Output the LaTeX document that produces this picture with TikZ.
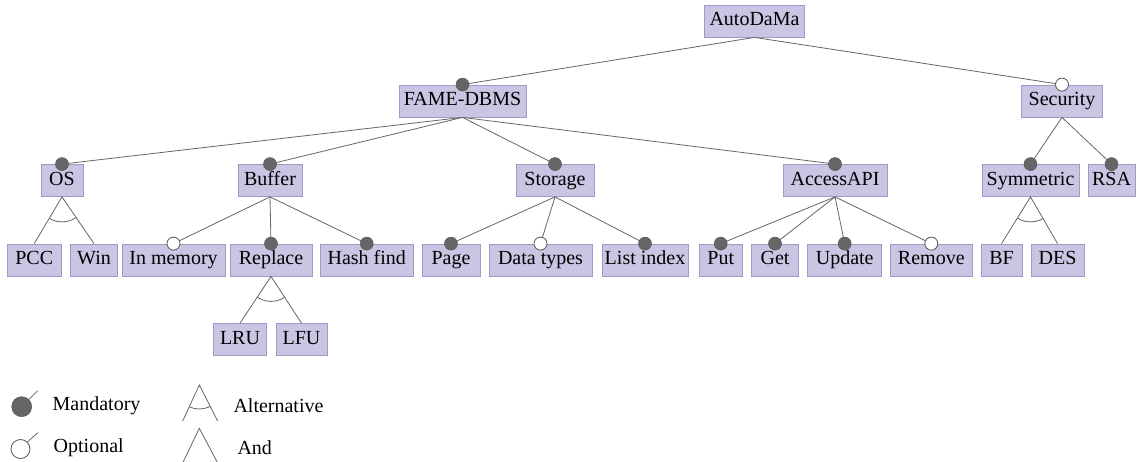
\documentclass[tikz,border=0pt]{standalone}
\usepackage{fontspec}
\setmainfont{Liberation Serif}
\usetikzlibrary{positioning}
\definecolor{featfill}{HTML}{C9C6E4}
\definecolor{featline}{HTML}{9E9BC8}
\definecolor{linkgray}{HTML}{666666}

\tikzset{
  feat/.style={draw=featline, fill=featfill, line width=0.8pt, rectangle, minimum height=32pt, inner sep=0pt, text height=14pt, text depth=4.5pt, font=\fontsize{20}{24}\selectfont},
  link/.style={draw=linkgray, line width=0.8pt},
  mand/.style={circle, fill=linkgray, draw=linkgray!85!black, line width=0.5pt, inner sep=0pt, minimum size=13pt},
  opt/.style={circle, fill=white, draw=linkgray!85!black, line width=0.8pt, inner sep=0pt, minimum size=13pt},
  lbl/.style={anchor=west, inner sep=0pt, font=\fontsize{20}{24}\selectfont}
}

% parent -> child with a filled or hollow dot
\newcommand{\mandlink}[2]{\draw[link] (#1.south) -- (#2.north); \node[mand] (#2-dot) at (#2.north) {};}
\newcommand{\optlink}[2]{\draw[link] (#1.south) -- (#2.north); \node[opt] (#2-dot) at (#2.north) {};}
% alternative group: two legs and an arc
\newcommand{\altgroup}[3]{%
  \draw[link] (#2.north) -- (#1.south) -- (#3.north);
  \begin{scope}
    \clip (#1.south) -- (#2.north) -- (#3.north) -- cycle;
    \draw[link] (#1.south) circle (25pt);
  \end{scope}}

\begin{document}
\begin{tikzpicture}[x=1pt, y=-1pt]
\useasboundingbox (0,0) rectangle (1139,462);

% features
\node[feat, minimum width=100pt] (auto) at (754.5,21) {AutoDaMa};
\node[feat, minimum width=127pt] (fame) at (462.5,101) {FAME-DBMS};
\node[feat, minimum width=81pt] (sec) at (1062,101) {Security};

\node[feat, minimum width=42pt] (os) at (62,180.5) {OS};
\node[feat, minimum width=64pt] (buf) at (270,180.5) {Buffer};
\node[feat, minimum width=78pt] (stor) at (555,180.5) {Storage};
\node[feat, minimum width=104pt] (api) at (835,180.5) {AccessAPI};
\node[feat, minimum width=97pt] (sym) at (1030.5,180.5) {Symmetric};
\node[feat, minimum width=47pt] (rsa) at (1111.5,180.5) {RSA};

\node[feat, minimum width=54.5pt] (pcc) at (34.25,260) {PCC};
\node[feat, minimum width=47pt] (win) at (94,260) {Win};
\node[feat, minimum width=103pt] (inmem) at (173.5,260) {In memory};
\node[feat, minimum width=82pt] (repl) at (271,260) {Replace};
\node[feat, minimum width=92.5pt] (hash) at (366.75,260) {Hash find};
\node[feat, minimum width=58pt] (page) at (451,260) {Page};
\node[feat, minimum width=103pt] (dtype) at (540.5,260) {Data types};
\node[feat, minimum width=86pt] (lidx) at (645,260) {List index};
\node[feat, minimum width=43.5pt] (put) at (720.75,260) {Put};
\node[feat, minimum width=46.6pt] (get) at (775,260) {Get};
\node[feat, minimum width=73.8pt] (upd) at (844.7,260) {Update};
\node[feat, minimum width=81.8pt] (rem) at (931.3,260) {Remove};
\node[feat, minimum width=41pt] (bf) at (1001.5,260) {BF};
\node[feat, minimum width=53pt] (des) at (1057.5,260) {DES};

\node[feat, minimum width=52.5pt] (lru) at (240,339.5) {LRU};
\node[feat, minimum width=51pt] (lfu) at (301.5,339.5) {LFU};

% relations
\mandlink{auto}{fame}
\optlink{auto}{sec}
\mandlink{fame}{os}
\mandlink{fame}{buf}
\mandlink{fame}{stor}
\mandlink{fame}{api}
\mandlink{sec}{sym}
\mandlink{sec}{rsa}
\altgroup{os}{pcc}{win}
\optlink{buf}{inmem}
\mandlink{buf}{repl}
\mandlink{buf}{hash}
\mandlink{stor}{page}
\optlink{stor}{dtype}
\mandlink{stor}{lidx}
\mandlink{api}{put}
\mandlink{api}{get}
\mandlink{api}{upd}
\optlink{api}{rem}
\altgroup{sym}{bf}{des}
\altgroup{repl}{lru}{lfu}

% legend
\node[mand, minimum size=20pt] (lgmand) at (21.7,406.7) {};
\coordinate (lgmandend) at (37.7,390.7);
\draw[link] (lgmand.45) -- (lgmandend);
\node[lbl] (lgmandtxt) at (52.5,406) {Mandatory};

\node[opt, minimum size=19pt] (lgopt) at (20.5,449) {};
\coordinate (lgoptend) at (37.7,432.7);
\draw[link] (lgopt.45) -- (lgoptend);
\node[lbl] (lgopttxt) at (53.5,448) {Optional};

\coordinate (altapex) at (199.3,385);
\coordinate (altleft) at (182.7,421);
\coordinate (altright) at (217.7,421);
\draw[link] (altleft) -- (altapex) -- (altright);
\begin{scope}
  \clip (altapex) -- (altleft) -- (altright) -- cycle;
  \draw[link] (altapex) circle (24pt);
\end{scope}
\node[lbl] (lgalttxt) at (233.3,406) {Alternative};

\coordinate (andapex) at (199.3,428.3);
\coordinate (andleft) at (182.7,463);
\coordinate (andright) at (217.7,463);
\draw[link] (andleft) -- (andapex) -- (andright);
\node[lbl] (lgandtxt) at (237.3,448) {And};
\end{tikzpicture}
\end{document}
